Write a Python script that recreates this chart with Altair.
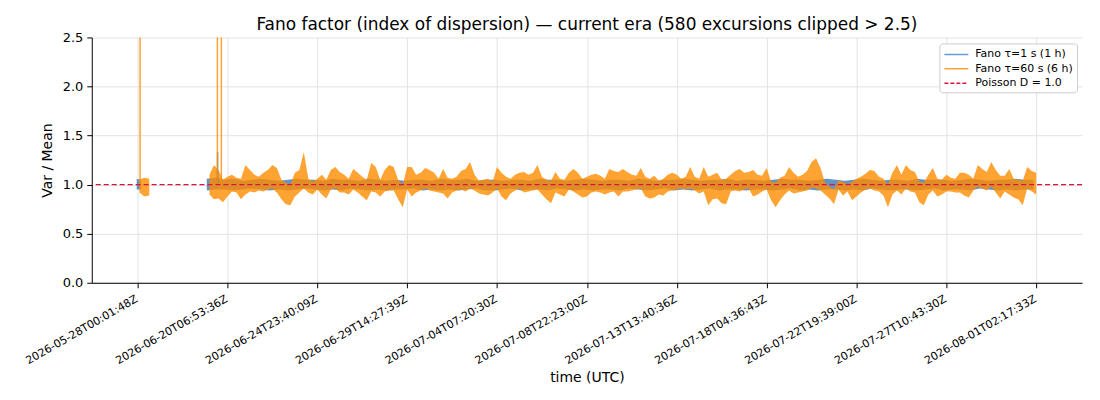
import altair as alt
import pandas as pd

# ---------------- data ----------------
TICK_POS = [0, 1, 2, 3, 4, 5, 6, 7, 8, 9, 10]
TICK_LABELS = [
    "2026-05-28T00:01:48Z", "2026-06-20T06:53:36Z", "2026-06-24T23:40:09Z",
    "2026-06-29T14:27:39Z", "2026-07-04T07:20:30Z", "2026-07-08T22:23:00Z",
    "2026-07-13T13:40:36Z", "2026-07-18T04:36:43Z", "2026-07-22T19:39:00Z",
    "2026-07-27T10:43:30Z", "2026-08-01T02:17:33Z",
]
Y_TICKS = [0.0, 0.5, 1.0, 1.5, 2.0, 2.5]

SERIES = ["Fano \u03c4=1 s (1 h)", "Fano \u03c4=60 s (6 h)", "Poisson D = 1.0"]

# orange (tau=60 s) envelope, main run, samples every 0.05 tick-units from 0.80
ORANGE_START, ORANGE_STEP = 0.80, 0.05
ORANGE_HI = (
    [1.10, 1.20, 1.15, 1.05]
    + [1.08, 1.10, 1.07, 1.06, 1.20, 1.15, 1.10, 1.08, 1.12, 1.15, 1.20, 1.17, 1.05, 1.02, 1.00, 1.12, 1.15, 1.33, 1.06, 1.03]
    + [1.06, 1.10, 1.05, 1.15, 1.18, 1.13, 1.10, 1.06, 1.16, 1.12, 1.08, 1.05, 1.22, 1.18, 1.05, 1.15, 1.20, 1.18, 1.05, 1.00]
    + [1.18, 1.18, 1.10, 1.12, 1.17, 1.15, 1.12, 1.06, 1.16, 1.07, 1.06, 1.08, 1.14, 1.16, 1.23, 1.10, 1.04, 1.05, 1.06, 1.03]
    + [1.18, 1.12, 1.08, 1.06, 1.10, 1.12, 1.13, 1.10, 1.12, 1.20, 1.08, 1.05, 1.04, 1.13, 1.06, 1.05, 1.12, 1.16, 1.12, 1.06]
    + [1.08, 1.10, 1.11, 1.09, 1.06, 1.16, 1.14, 1.13, 1.16, 1.13, 1.10, 1.09, 1.17, 1.08, 1.06, 1.09, 1.04, 1.06, 1.10, 1.12]
    + [1.10, 1.06, 1.08, 1.18, 1.08, 1.06, 1.18, 1.08, 1.10, 1.12, 1.05, 1.06, 1.10, 1.14, 1.16, 1.12, 1.13, 1.15, 1.10, 1.09]
    + [1.17, 1.03, 1.02, 1.07, 1.09, 1.18, 1.12, 1.08, 1.10, 1.14, 1.23, 1.27, 1.17, 1.02, 0.98, 0.95, 1.04, 1.03, 1.00, 1.03]
    + [1.06, 1.08, 1.11, 1.15, 1.14, 1.08, 1.06, 1.00, 1.12, 1.20, 1.10, 1.20, 1.15, 1.13, 1.03, 1.02, 1.10, 1.17, 1.06, 1.05]
    + [1.10, 1.07, 1.06, 1.12, 1.12, 1.10, 1.06, 1.20, 1.16, 1.13, 1.23, 1.15, 1.09, 1.09, 1.16, 1.06, 1.05, 1.04, 1.18, 1.14]
    + [1.12]
)
ORANGE_LO = (
    [0.90, 0.85, 0.86, 0.82]
    + [0.88, 0.93, 0.92, 0.85, 0.90, 0.93, 0.92, 0.94, 0.93, 0.95, 0.96, 0.92, 0.85, 0.80, 0.79, 0.88, 0.92, 0.96, 0.92, 0.90]
    + [0.95, 0.90, 0.86, 0.95, 0.96, 0.92, 0.92, 0.90, 0.95, 0.92, 0.88, 0.84, 0.93, 0.92, 0.88, 0.93, 0.94, 0.94, 0.85, 0.77]
    + [0.95, 0.88, 0.92, 0.94, 0.96, 0.94, 0.93, 0.92, 0.91, 0.86, 0.92, 0.94, 0.95, 0.93, 0.96, 0.94, 0.91, 0.90, 0.89, 0.92]
    + [0.96, 0.88, 0.84, 0.91, 0.94, 0.96, 0.92, 0.93, 0.94, 0.95, 0.90, 0.85, 0.81, 0.92, 0.90, 0.88, 0.95, 0.93, 0.90, 0.87]
    + [0.88, 0.92, 0.93, 0.92, 0.90, 0.92, 0.93, 0.88, 0.93, 0.93, 0.94, 0.95, 0.96, 0.88, 0.86, 0.87, 0.90, 0.89, 0.93, 0.94]
    + [0.95, 0.96, 0.95, 0.96, 0.94, 0.91, 0.93, 0.79, 0.85, 0.86, 0.81, 0.80, 0.93, 0.94, 0.93, 0.95, 0.96, 0.88, 0.90, 0.93]
    + [0.95, 0.84, 0.77, 0.84, 0.90, 0.94, 0.91, 0.92, 0.93, 0.94, 0.97, 0.96, 0.94, 0.90, 0.86, 0.80, 0.95, 0.89, 0.93, 0.84]
    + [0.88, 0.92, 0.95, 0.96, 0.94, 0.93, 0.89, 0.77, 0.90, 0.94, 0.90, 0.96, 0.93, 0.92, 0.82, 0.79, 0.90, 0.94, 0.88, 0.90]
    + [0.93, 0.93, 0.92, 0.92, 0.89, 0.87, 0.94, 0.98, 0.96, 0.94, 0.98, 0.92, 0.86, 0.93, 0.90, 0.87, 0.85, 0.79, 0.96, 0.93]
    + [0.90]
)
# orange first short run
ORANGE_FIRST_X = [0.02, 0.075, 0.13]
ORANGE_FIRST_HI = [1.05, 1.07, 1.06]
ORANGE_FIRST_LO = [0.92, 0.88, 0.89]

# blue (tau=1 s) envelope, main run, every 0.1 tick-units from 0.77
BLUE_START, BLUE_STEP = 0.77, 0.10
BLUE_HI = (
    [1.06, 1.07]
    + [1.05, 1.06, 1.04, 1.05, 1.06, 1.05, 1.04, 1.05, 1.06, 1.05]
    + [1.05, 1.04, 1.06, 1.05, 1.05, 1.04, 1.06, 1.05, 1.04, 1.05]
    + [1.04, 1.05, 1.05, 1.04, 1.06, 1.05, 1.05, 1.06, 1.04, 1.05]
    + [1.05, 1.04, 1.05, 1.05, 1.04, 1.06, 1.05, 1.05, 1.04, 1.05]
    + [1.06, 1.05, 1.04, 1.05, 1.05, 1.04, 1.06, 1.05, 1.04, 1.05]
    + [1.05, 1.06, 1.05, 1.04, 1.05, 1.05, 1.06, 1.04, 1.05, 1.05]
    + [1.04, 1.05, 1.06, 1.05, 1.05, 1.04, 1.05, 1.06, 1.05, 1.04]
    + [1.05, 1.06, 1.05, 1.04, 1.05, 1.05, 1.04, 1.06, 1.05, 1.05]
    + [1.05, 1.04, 1.05, 1.06, 1.05, 1.04, 1.05, 1.05, 1.06, 1.05]
    + [1.05]
)
BLUE_LO = (
    [0.94, 0.95]
    + [0.95, 0.94, 0.95, 0.96, 0.95, 0.94, 0.95, 0.94, 0.95, 0.96]
    + [0.95, 0.94, 0.95, 0.94, 0.96, 0.95, 0.94, 0.95, 0.94, 0.95]
    + [0.95, 0.96, 0.94, 0.95, 0.94, 0.95, 0.94, 0.95, 0.96, 0.94]
    + [0.94, 0.95, 0.96, 0.94, 0.95, 0.95, 0.94, 0.96, 0.95, 0.94]
    + [0.95, 0.94, 0.95, 0.95, 0.94, 0.96, 0.95, 0.94, 0.95, 0.96]
    + [0.94, 0.95, 0.94, 0.95, 0.96, 0.94, 0.95, 0.95, 0.94, 0.95]
    + [0.95, 0.94, 0.95, 0.96, 0.94, 0.95, 0.94, 0.95, 0.95, 0.94]
    + [0.95, 0.94, 0.96, 0.95, 0.94, 0.95, 0.95, 0.94, 0.95, 0.96]
    + [0.94, 0.95, 0.95, 0.94, 0.96, 0.95, 0.94, 0.95, 0.94, 0.95]
    + [0.95]
)
BLUE_FIRST_X = [-0.01, 0.04]
BLUE_FIRST_HI = [1.06, 1.05]
BLUE_FIRST_LO = [0.95, 0.95]

# isolated excursions (orange ones are clipped at the top of the axis)
ORANGE_SPIKE_X = [0.028, 0.888, 0.932]
ORANGE_SPIKE_TOP = [2.7, 2.7, 2.7]
BLUE_SPIKE_X = [0.89]
BLUE_SPIKE_TOP = [1.33]
SPIKE_BASE = 1.0

POISSON_D = [1.0]

assert len(ORANGE_HI) == len(ORANGE_LO) == 185
assert len(BLUE_HI) == len(BLUE_LO) == 93

BLUE_C = "#4a80b8"
ORANGE_C = "#ff8c00"
RED_C = "#dc143c"
FONT = "DejaVu Sans"

# ---------------- build tables ----------------
df_orange = pd.DataFrame({
    "x": [round(ORANGE_START + i * ORANGE_STEP, 4) for i in range(len(ORANGE_HI))],
    "lo": ORANGE_LO, "hi": ORANGE_HI,
})
df_orange1 = pd.DataFrame({"x": ORANGE_FIRST_X, "lo": ORANGE_FIRST_LO, "hi": ORANGE_FIRST_HI})
df_blue = pd.DataFrame({
    "x": [round(BLUE_START + i * BLUE_STEP, 4) for i in range(len(BLUE_HI))],
    "lo": BLUE_LO, "hi": BLUE_HI,
})
df_blue1 = pd.DataFrame({"x": BLUE_FIRST_X, "lo": BLUE_FIRST_LO, "hi": BLUE_FIRST_HI})

df_ospike = pd.DataFrame({"x": ORANGE_SPIKE_X, "lo": [SPIKE_BASE] * len(ORANGE_SPIKE_X), "hi": ORANGE_SPIKE_TOP})
df_bspike = pd.DataFrame({"x": BLUE_SPIKE_X, "lo": [SPIKE_BASE] * len(BLUE_SPIKE_X), "hi": BLUE_SPIKE_TOP})
df_pois = pd.DataFrame({"lo": POISSON_D})

leg_rows = []
for s in SERIES:
    leg_rows.append({"x": -3.0, "lo": 1.0, "series": s})
    leg_rows.append({"x": -2.0, "lo": 1.0, "series": s})
df_leg = pd.DataFrame(leg_rows)

# ---------------- encodings ----------------
label_js = "[" + ",".join("'" + t + "'" for t in TICK_LABELS) + "][datum.value]"

X_SCALE = alt.Scale(domain=[-0.51, 10.51], nice=False, zero=False)
Y_SCALE = alt.Scale(domain=[0, 2.5], nice=False, zero=False)

X_AXIS = alt.Axis(
    title="time (UTC)", values=TICK_POS, labelExpr=label_js,
    labelAngle=-30, labelAlign="right", labelBaseline="top",
    labelFontSize=11, labelPadding=5, labelOffset=-4,
    labelOverlap=False, labelBound=False, labelFlush=False,
    tickSize=5, tickColor="black", tickWidth=1, domainColor="black", domainWidth=1,
    grid=True, gridColor="#e3e3e3", gridWidth=1,
    titleFontSize=14, titleFontWeight="normal", titleX=496.5, titleY=95,
    titleAlign="center", titleBaseline="middle",
)
Y_AXIS = alt.Axis(
    title="Var / Mean", values=Y_TICKS, format=".1f",
    labelFontSize=13, labelPadding=4,
    tickSize=5, tickColor="black", tickWidth=1, domainColor="black", domainWidth=1,
    grid=True, gridColor="#e3e3e3", gridWidth=1,
    titleFontSize=14, titleFontWeight="normal", titleX=-44, titleY=123,
    titleAlign="center", titleBaseline="middle",
)


def xq():
    return alt.X("x:Q", scale=X_SCALE, axis=X_AXIS)


def yq():
    return alt.Y("lo:Q", scale=Y_SCALE, axis=Y_AXIS)


def band(df, colour, op):
    return alt.Chart(df).mark_area(color=colour, fillOpacity=op, clip=True).encode(
        x=xq(), y=yq(), y2=alt.Y2("hi")
    )


blue_a = band(df_blue1, BLUE_C, 0.85)
blue_b = band(df_blue, BLUE_C, 0.85)
orange_a = band(df_orange1, ORANGE_C, 0.8)
orange_b = band(df_orange, ORANGE_C, 0.8)

bspike = alt.Chart(df_bspike).mark_rule(color=BLUE_C, opacity=0.85, strokeWidth=1.5, clip=True).encode(
    x=xq(), y=yq(), y2=alt.Y2("hi")
)
ospike = alt.Chart(df_ospike).mark_rule(color=ORANGE_C, opacity=0.8, strokeWidth=1.5, clip=True).encode(
    x=xq(), y=yq(), y2=alt.Y2("hi")
)
pois = alt.Chart(df_pois).mark_rule(color=RED_C, strokeDash=[5, 3], strokeWidth=1.3).encode(
    y=yq()
)

LEGEND = alt.Legend(
    title=None, orient="none", legendX=850, legendY=6,
    labelFontSize=11, labelFont=FONT, labelColor="black",
    symbolType="M-1,0H3", symbolSize=144, symbolStrokeWidth=1.5, labelOffset=18,
    rowPadding=2.5, padding=4, strokeColor="#cccccc", fillColor="white",
    cornerRadius=3,
)
legend_layer = alt.Chart(df_leg).mark_line(strokeWidth=1.5, clip=True).encode(
    x=xq(), y=yq(),
    color=alt.Color("series:N", scale=alt.Scale(domain=SERIES, range=["#6a9bcf", "#ffa033", RED_C]), legend=LEGEND),
    strokeDash=alt.StrokeDash("series:N", scale=alt.Scale(domain=SERIES, range=[[1, 0], [1, 0], [4, 2]]), legend=LEGEND),
)

chart = alt.layer(blue_a, blue_b, orange_a, orange_b, bspike, ospike, pois, legend_layer).properties(
    width=993, height=246,
    title=alt.TitleParams(
        text="Fano factor (index of dispersion) \u2014 current era  (580 excursions clipped > 2.5)",
        fontSize=17, font=FONT, fontWeight="normal", frame="group", offset=-3, anchor="middle",
        color="black",
    ),
    autosize=alt.AutoSizeParams(type="none"),
    padding={"left": 84, "top": 29, "right": 10, "bottom": 109},
).configure(font=FONT).configure_view(stroke=None).configure_axis(
    labelColor="black", titleColor="black", labelFont=FONT, titleFont=FONT
)

chart.save("out.html", embed_options={"renderer": "svg", "actions": False})
